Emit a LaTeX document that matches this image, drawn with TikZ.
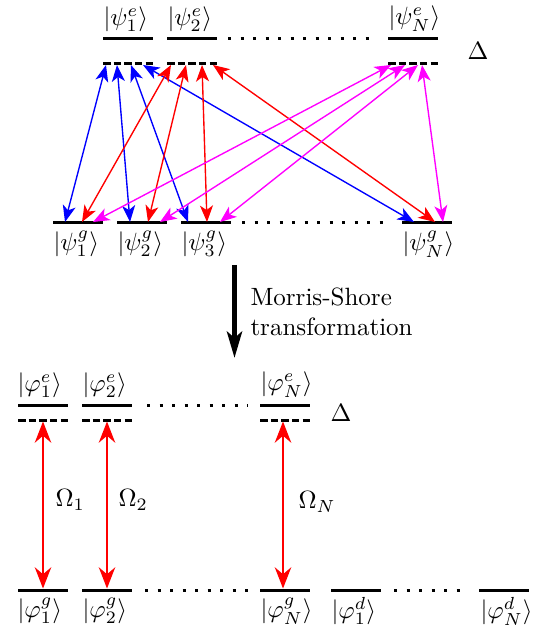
\documentclass[tikz,border=0pt]{standalone}
\usetikzlibrary{arrows.meta}
\definecolor{mag}{RGB}{255,0,255}
\definecolor{rd}{RGB}{255,0,0}
\definecolor{bl}{RGB}{0,0,255}
\begin{document}
\begin{tikzpicture}[x=0.4pt,y=-0.4pt,
  level/.style={line width=1.2pt},
  dlevel/.style={line width=1.2pt, dash pattern=on 3pt off 1.25pt},
  dotline/.style={line width=1.2pt, dash pattern=on 1.2pt off 3.8pt},
  coup/.style={line width=0.55pt,
    {Stealth[length=6.6pt,width=5.2pt,inset=1.8pt]}-{Stealth[length=6.6pt,width=5.2pt,inset=1.8pt]}},
  rabi/.style={line width=0.55pt, rd,
    {Stealth[length=8.5pt,width=6.6pt,inset=2.8pt]}-{Stealth[length=8.5pt,width=6.6pt,inset=2.8pt]}},
  upl/.style={inner sep=0pt, anchor=south west},
  dnl/.style={inner sep=0pt, anchor=north west},
  txt/.style={inner sep=0pt}]
\useasboundingbox (0,0) rectangle (539,631);

% ---------- top: original basis ----------
\draw[level] (103,39) coordinate (e1L) -- (153,39) coordinate (e1R);
\draw[level] (167,39) coordinate (e2L) -- (217,39) coordinate (e2R);
\draw[level] (388,39) coordinate (eNL) -- (438,39) coordinate (eNR);
\draw[dotline] (228,39) coordinate (dtA) -- (375,39) coordinate (dtB);
\draw[dlevel] (103,64) coordinate (d1L) -- (153,64) coordinate (d1R);
\draw[dlevel] (167,64) coordinate (d2L) -- (217,64) coordinate (d2R);
\draw[dlevel] (388,64) coordinate (dNL) -- (438,64) coordinate (dNR);
\draw[level] (53,223) coordinate (g1L) -- (103,223) coordinate (g1R);
\draw[level] (117,223) coordinate (g2L) -- (167,223) coordinate (g2R);
\draw[level] (181,223) coordinate (g3L) -- (231,223) coordinate (g3R);
\draw[level] (402,223) coordinate (gNL) -- (452,223) coordinate (gNR);
\draw[dotline] (242,223) coordinate (dgA) -- (392,223) coordinate (dgB);

\node[upl] (le1) at (103,32) {$|\psi^e_1\rangle$};
\node[upl] (le2) at (167,32) {$|\psi^e_2\rangle$};
\node[upl] (leN) at (388,32) {$|\psi^e_N\rangle$};
\node[txt] (Dtop) at (478,51) {$\Delta$};
\node[dnl] (lg1) at (53,230) {$|\psi^g_1\rangle$};
\node[dnl] (lg2) at (117,230) {$|\psi^g_2\rangle$};
\node[dnl] (lg3) at (181,230) {$|\psi^g_3\rangle$};
\node[dnl] (lgN) at (402,230) {$|\psi^g_N\rangle$};

\coordinate (a1) at (106,65); \coordinate (a2) at (117,65);
\coordinate (a3) at (131,65); \coordinate (a4) at (143,65);
\coordinate (b1) at (171,65); \coordinate (b2) at (186,65);
\coordinate (b3) at (202,65); \coordinate (b4) at (213,65);
\coordinate (c1) at (391,65); \coordinate (c2) at (405,65);
\coordinate (c3) at (418,65); \coordinate (c4) at (422,65);
\coordinate (p1) at (65,222);  \coordinate (q1) at (82,222);  \coordinate (r1) at (93,222);
\coordinate (p2) at (130,222); \coordinate (q2) at (148,222); \coordinate (r2) at (160,222);
\coordinate (p3) at (188,222); \coordinate (q3) at (207,222); \coordinate (r3) at (220,222);
\coordinate (p4) at (414,222); \coordinate (q4) at (435,222); \coordinate (r4) at (443,222);

\draw[coup, bl] (a1) -- (p1);
\draw[coup, bl] (a2) -- (p2);
\draw[coup, bl] (a3) -- (p3);
\draw[coup, bl] (a4) -- (p4);
\draw[coup, rd] (b1) -- (q1);
\draw[coup, rd] (b2) -- (q2);
\draw[coup, rd] (b3) -- (q3);
\draw[coup, rd] (b4) -- (q4);
\draw[coup, mag] (c1) -- (r1);
\draw[coup, mag] (c2) -- (r2);
\draw[coup, mag] (c3) -- (r3);
\draw[coup, mag] (c4) -- (r4);

% ---------- transformation arrow ----------
\coordinate (tA) at (234.5,265);
\coordinate (tB) at (234.5,358);
\draw[line width=2pt, -{Stealth[length=10.5pt,width=6pt,inset=2.5pt]}] (tA) -- (tB);
\node[txt, align=left, anchor=west] (ms) at (250,312) {Morris-Shore\\transformation};

% ---------- bottom: MS basis ----------
\draw[level] (18,405) coordinate (f1L) -- (68,405) coordinate (f1R);
\draw[level] (82,405) coordinate (f2L) -- (132,405) coordinate (f2R);
\draw[level] (260,405) coordinate (fNL) -- (310,405) coordinate (fNR);
\draw[dotline] (147,405) coordinate (dfA) -- (248,405) coordinate (dfB);
\draw[dlevel] (18,420) coordinate (h1L) -- (68,420) coordinate (h1R);
\draw[dlevel] (82,420) coordinate (h2L) -- (132,420) coordinate (h2R);
\draw[dlevel] (260,420) coordinate (hNL) -- (310,420) coordinate (hNR);
\node[txt] (Dbot) at (341,413) {$\Delta$};

\draw[level] (18,590) coordinate (k1L) -- (68,590) coordinate (k1R);
\draw[level] (82,590) coordinate (k2L) -- (132,590) coordinate (k2R);
\draw[level] (260,590) coordinate (kNL) -- (310,590) coordinate (kNR);
\draw[level] (331,590) coordinate (m1L) -- (381,590) coordinate (m1R);
\draw[level] (479,590) coordinate (mNL) -- (529,590) coordinate (mNR);
\draw[dotline] (145,590) coordinate (dkA) -- (252,590) coordinate (dkB);
\draw[dotline] (394,590) coordinate (dmA) -- (462,590) coordinate (dmB);

\node[upl] (lf1) at (17,398) {$|\varphi^e_1\rangle$};
\node[upl] (lf2) at (82,398) {$|\varphi^e_2\rangle$};
\node[upl] (lfN) at (260,398) {$|\varphi^e_N\rangle$};
\node[dnl] (lk1) at (17,597) {$|\varphi^g_1\rangle$};
\node[dnl] (lk2) at (82,597) {$|\varphi^g_2\rangle$};
\node[dnl] (lkN) at (260,597) {$|\varphi^g_N\rangle$};
\node[dnl] (lm1) at (331,597) {$|\varphi^d_1\rangle$};
\node[dnl] (lmN) at (480,597) {$|\varphi^d_N\rangle$};

\coordinate (o1t) at (43,421.5);  \coordinate (o1b) at (43,588.5);
\coordinate (o2t) at (107,421.5); \coordinate (o2b) at (107,588.5);
\coordinate (oNt) at (283,421.5); \coordinate (oNb) at (283,588.5);
\draw[rabi] (o1t) -- (o1b);
\draw[rabi] (o2t) -- (o2b);
\draw[rabi] (oNt) -- (oNb);
\node[txt, anchor=west] (W1) at (55,500) {$\Omega_1$};
\node[txt, anchor=west] (W2) at (118,500) {$\Omega_2$};
\node[txt, anchor=west] (WN) at (298,502) {$\Omega_N$};
\end{tikzpicture}
\end{document}
